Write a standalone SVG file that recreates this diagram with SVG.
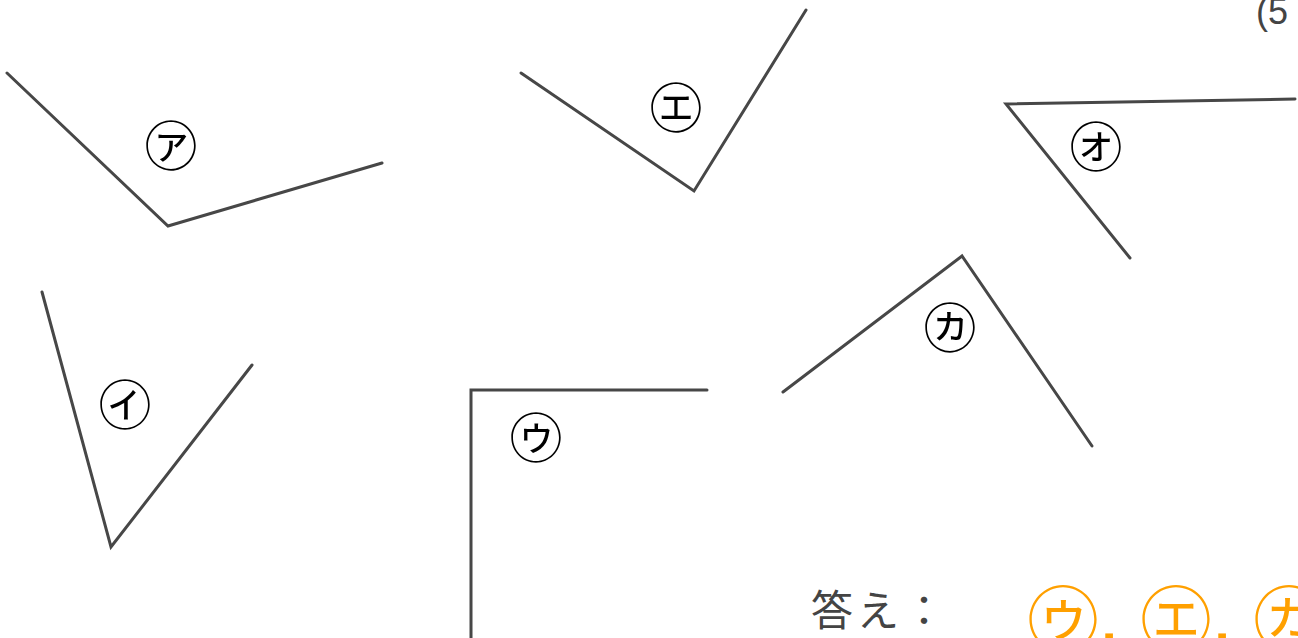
<svg xmlns="http://www.w3.org/2000/svg" width="1298" height="638" viewBox="0 0 1298 638">
<style>
.ln{fill:none;stroke:#474747;stroke-width:3;stroke-linecap:round;stroke-linejoin:miter}
.lb{font-family:"Noto Sans CJK JP","Noto Sans CJK SC",sans-serif;font-size:53px;fill:#000;text-anchor:middle;dominant-baseline:central}
.tx{font-family:"Noto Sans CJK JP","Liberation Sans",sans-serif;fill:#444}
.ans{font-family:"Noto Sans CJK JP",sans-serif;font-size:72px;fill:#FFA000;text-anchor:middle;dominant-baseline:central}
.dot{font-family:"Liberation Sans",sans-serif;font-size:80px;fill:#FFA000;text-anchor:middle}
</style>
<rect width="1298" height="638" fill="#fff"/>
<g id="connectors">
<polyline class="ln" points="7,73 168,226 382,163"/>
<polyline class="ln" points="521,73 694,191 806,10"/>
<polyline class="ln" points="1295,99 1006,104 1130,258"/>
<polyline class="ln" points="42,292 111,547 252,365"/>
<polyline class="ln" points="707,390 471,390 471,640"/>
<polyline class="ln" points="783,392 962,256 1092,446"/>
</g>
<g id="node-a"><text class="lb" x="171" y="143">㋐</text></g>
<g id="node-e"><text class="lb" x="676" y="105">㋓</text></g>
<g id="node-o"><text class="lb" x="1096" y="144">㋔</text></g>
<g id="node-i"><text class="lb" x="125" y="402">㋑</text></g>
<g id="node-u"><text class="lb" x="536" y="435">㋒</text></g>
<g id="node-ka"><text class="lb" x="950" y="325">㋕</text></g>
<g id="title"><text class="tx" x="1256" y="24" font-size="36" style="font-family:'Liberation Sans',sans-serif">(5</text></g>
<g id="answer">
<text class="tx" x="811" y="626" font-size="42" letter-spacing="4">答え：</text>
<text class="ans" x="1063" y="614">㋒</text>
<text class="dot" x="1109" y="642">.</text>
<text class="ans" x="1176" y="614">㋓</text>
<text class="dot" x="1222" y="642">.</text>
<text class="ans" x="1289" y="614">㋕</text>
</g>
</svg>
